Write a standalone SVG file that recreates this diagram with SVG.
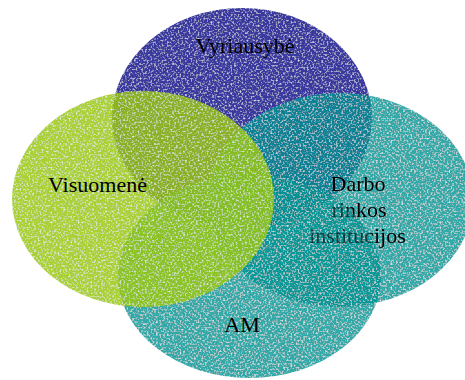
<svg xmlns="http://www.w3.org/2000/svg" width="465" height="380" viewBox="0 0 465 380">
  <defs>
    <filter id="tex" x="0" y="0" width="1" height="1">
      <feTurbulence type="fractalNoise" baseFrequency="0.55" numOctaves="1" seed="7" result="n"/>
      <feColorMatrix in="n" type="matrix" values="0 0 0 0 1  0 0 0 0 1  0 0 0 0 1  2.2 0 0 0 -1.12" result="w"/>
      <feComposite in="w" in2="SourceGraphic" operator="atop"/>
    </filter>
    <mask id="fade" maskUnits="userSpaceOnUse" x="0" y="0" width="465" height="380">
      <rect width="465" height="380" fill="#fff"/>
      <ellipse cx="249.5" cy="276" rx="131.5" ry="102" fill="#a0a0a0"/>
    </mask>
    <style>
      .e { filter: url(#tex); stroke: none; }
      .purple { fill: #38389e; }
      .green { fill: #9cc80e; opacity: 0.84; }
      .teal { fill: #009494; opacity: 0.8; }
      .lbl { font-family: "Liberation Serif", "Times New Roman", serif; font-size: 22px; fill: #000; text-anchor: middle; }
    </style>
  </defs>
  <rect width="465" height="380" fill="#fff"/>
  <g id="connectors"/>
  <g id="node-vyriausybe">
    <ellipse class="e purple" cx="242" cy="118" rx="130" ry="110"/>
    <text class="lbl" x="245" y="53">Vyriausybė</text>
  </g>
  <g id="node-am">
    <ellipse class="e teal" cx="249.5" cy="276" rx="131.5" ry="102"/>
    <text class="lbl" x="242" y="332">AM</text>
  </g>
  <g id="node-darbo">
    <ellipse class="e teal" cx="340" cy="200" rx="133" ry="107"/>
    <g mask="url(#fade)">
      <text class="lbl" x="358" y="191">Darbo</text>
      <text class="lbl" x="359" y="217">rinkos</text>
      <text class="lbl" x="357.5" y="243">institucijos</text>
    </g>
  </g>
  <g id="node-visuomene">
    <ellipse class="e green" cx="143" cy="199" rx="131" ry="108"/>
    <text class="lbl" x="97.5" y="192">Visuomenė</text>
  </g>
</svg>
